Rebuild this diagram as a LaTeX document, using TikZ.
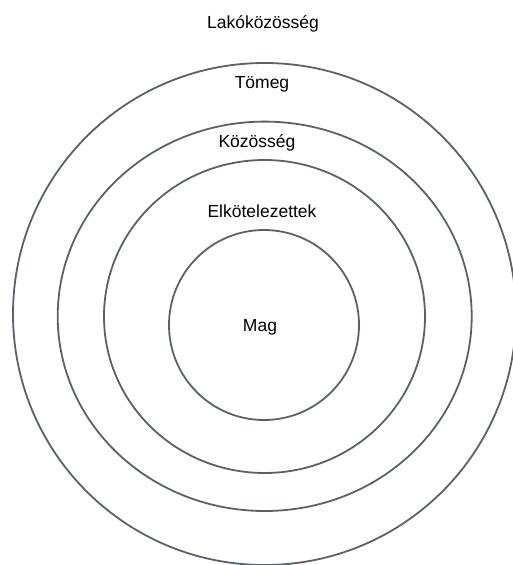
\documentclass[tikz,border=0pt]{standalone}
\usepackage{fontspec}
\setmainfont{Liberation Sans}
\definecolor{ringgray}{HTML}{5A616B}
\begin{document}
\begin{tikzpicture}[x=1pt,y=-1pt,
  ring/.style={draw=ringgray,line width=1.8pt},
  lbl/.style={font=\fontsize{17.5}{20}\selectfont,inner sep=0pt,text=black}]
\useasboundingbox (0,0) rectangle (513,565);
\begin{scope}
\clip (0,0) rectangle (513,565);
\draw[ring] (264.5,314) ellipse [x radius=251.5, y radius=251];
\draw[ring] (264.7,316.3) ellipse [x radius=207, y radius=194.7];
\draw[ring] (264.5,316.5) ellipse [x radius=160.5, y radius=156.5];
\draw[ring] (264,325) circle [radius=95];
\end{scope}
\node[lbl] (lako) at (263,24) {Lakóközösség};
\node[lbl] (tomeg) at (262,84) {Tömeg};
\node[lbl] (kozosseg) at (257,143) {Közösség};
\node[lbl] (elk) at (262,211) {Elkötelezettek};
\node[lbl] (mag) at (260,327) {Mag};
\end{tikzpicture}
\end{document}
